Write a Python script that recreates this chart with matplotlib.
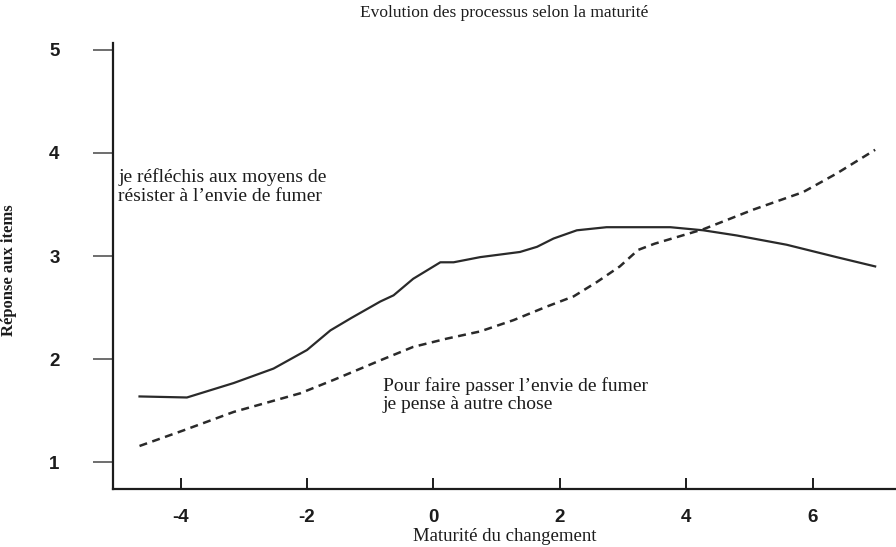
import matplotlib
matplotlib.use("Agg")
import matplotlib.pyplot as plt

# maturity of change (x) and mean item response (y) for the two processes
x_reflect = [-4.65, -3.90, -3.16, -2.53, -2.00, -1.63, -1.30, -0.84, -0.63, -0.32,
             0.11, 0.32, 0.74, 1.37, 1.64, 1.90, 2.27, 2.74, 3.27, 3.75,
             4.27, 4.80, 5.59, 6.38, 6.99]
y_reflect = [1.64, 1.63, 1.77, 1.91, 2.09, 2.28, 2.40, 2.56, 2.62, 2.78,
             2.94, 2.94, 2.99, 3.04, 3.09, 3.17, 3.25, 3.28, 3.28, 3.28,
             3.25, 3.20, 3.11, 2.99, 2.90]

x_divert = [-4.65, -3.96, -3.16, -2.11, -1.58, -0.84, -0.32, 0.21, 0.74, 1.27,
            1.79, 2.22, 2.59, 2.95, 3.24, 3.50, 4.27, 5.06, 5.85, 6.38, 6.99]
y_divert = [1.16, 1.31, 1.49, 1.67, 1.80, 1.99, 2.12, 2.20, 2.27, 2.38,
            2.51, 2.61, 2.75, 2.90, 3.06, 3.12, 3.26, 3.45, 3.62, 3.80, 4.03]

x_ticks = [-4, -2, 0, 2, 4, 6]
y_ticks = [1, 2, 3, 4, 5]

serif = ["Liberation Serif", "DejaVu Serif"]
narrow = ["Liberation Sans Narrow", "Liberation Sans", "DejaVu Sans"]
ink = "#1c1c1c"

fig = plt.figure(figsize=(8.96, 5.47), dpi=100)
ax = fig.add_axes([0.1261, 0.106, 0.8739, 0.8154])

ax.plot(x_reflect, y_reflect, color="#2a2a2a", lw=1.6, solid_joinstyle="round")
ax.plot(x_divert, y_divert, color="#2a2a2a", lw=1.8, linestyle=(0, (3.2, 2.2)))

ax.set_xlim(-5.07, 7.32)
ax.set_ylim(0.743, 5.065)

for side in ("top", "right"):
    ax.spines[side].set_visible(False)
for side in ("left", "bottom"):
    ax.spines[side].set_linewidth(1.6)
    ax.spines[side].set_color(ink)

ax.set_xticks(x_ticks)
ax.set_xticklabels([str(v) for v in x_ticks])
ax.set_yticks(y_ticks)
ax.set_yticklabels([str(v) for v in y_ticks])
ax.tick_params(axis="x", direction="in", length=8, width=1.4, pad=14.5, color=ink)
ax.tick_params(axis="y", direction="out", length=14.5, width=1.2, pad=24, color="#555555")
for lab in ax.get_xticklabels() + ax.get_yticklabels():
    lab.set_family(narrow)
    lab.set_fontweight("bold")
    lab.set_fontsize(13.5)
    lab.set_color(ink)

ax.set_xlabel("Maturité du changement", family=serif, fontsize=13.5, color=ink)
ax.xaxis.set_label_coords(0.5, -0.088)
ax.set_ylabel("Réponse aux items", family=serif, fontsize=12, fontweight="bold", color=ink)
ax.yaxis.set_label_coords(-0.122, 0.49)
ax.set_title("Evolution des processus selon la maturité", family=serif, fontsize=12.5,
             color=ink, pad=18.5)

ax.text(-4.99, 3.85, "je réfléchis aux moyens de\nrésister à l\u2019envie de fumer",
        family=serif, fontsize=14, color=ink, va="top", ha="left", linespacing=1.12)
ax.text(-0.80, 1.83, "Pour faire passer l\u2019envie de fumer\nje pense à autre chose",
        family=serif, fontsize=14, color=ink, va="top", ha="left", linespacing=1.12)

fig.savefig("out.png", dpi=100)
